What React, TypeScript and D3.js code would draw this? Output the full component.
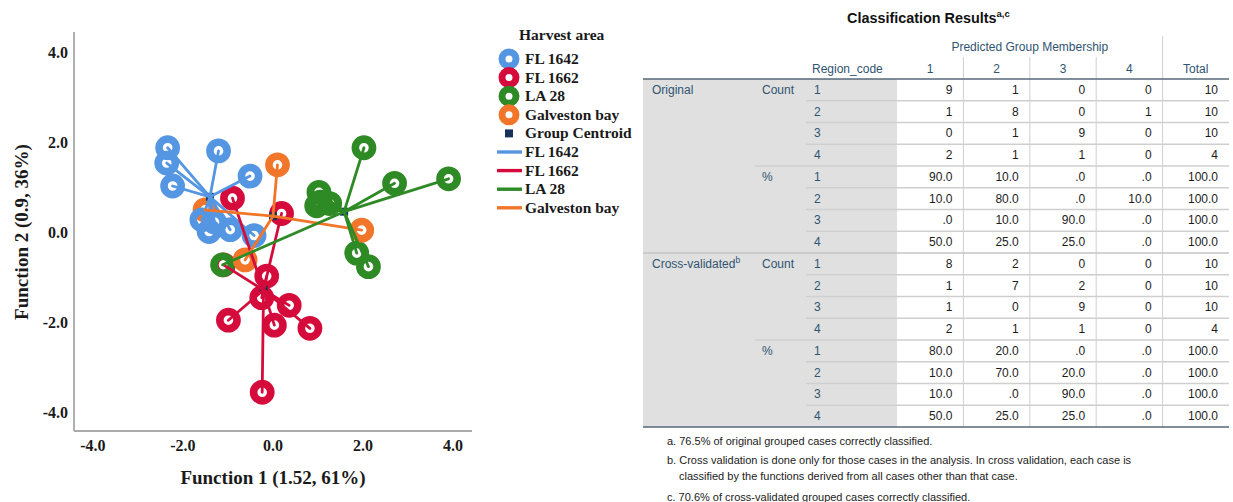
import React from 'react';
import * as d3 from 'd3';

// ---- Discriminant scores (Function 1, Function 2) per harvest area ----
const groupNames = ['FL 1642', 'FL 1662', 'LA 28', 'Galveston bay'];
const groupColors = ['#5596e3', '#d50b3b', '#2e8a25', '#f2762a'];

const fl1642Cases: [number, number][] = [
  [-2.34, 1.87], [-2.36, 1.53], [-2.23, 1.02], [-1.21, 1.80], [-0.51, 1.24],
  [-1.58, 0.27], [-1.42, 0.01], [-0.95, 0.05], [-0.42, -0.08], [-1.30, 0.22],
];
const fl1662Cases: [number, number][] = [
  [-0.90, 0.75], [0.19, 0.41], [-1.10, -0.73], [-0.14, -0.98], [-0.25, -1.46],
  [0.36, -1.63], [-0.99, -1.96], [0.03, -2.07], [0.82, -2.14], [-0.24, -3.56],
];
const la28Cases: [number, number][] = [
  [2.02, 1.87], [2.70, 1.08], [3.90, 1.18], [1.02, 0.88], [1.05, 0.66],
  [1.26, 0.63], [0.97, 0.58], [1.86, -0.47], [2.12, -0.77], [-1.12, -0.73],
];
const galvestonCases: [number, number][] = [
  [0.10, 1.49], [1.97, 0.04], [-0.62, -0.62], [-1.51, 0.49],
];
const groupCases = [fl1642Cases, fl1662Cases, la28Cases, galvestonCases];
const groupCentroids: [number, number][] = [
  [-1.40, 0.78], [-0.21, -1.29], [1.58, 0.45], [0.00, 0.35],
];
const axisTicks = [-4, -2, 0, 2, 4];

// ---- Classification Results table ----
const predictedHeaders = ['1', '2', '3', '4', 'Total'];
const regionCodes = ['1', '2', '3', '4'];
const originalCount = [
  ['9', '1', '0', '0', '10'],
  ['1', '8', '0', '1', '10'],
  ['0', '1', '9', '0', '10'],
  ['2', '1', '1', '0', '4'],
];
const originalPct = [
  ['90.0', '10.0', '.0', '.0', '100.0'],
  ['10.0', '80.0', '.0', '10.0', '100.0'],
  ['.0', '10.0', '90.0', '.0', '100.0'],
  ['50.0', '25.0', '25.0', '.0', '100.0'],
];
const crossCount = [
  ['8', '2', '0', '0', '10'],
  ['1', '7', '2', '0', '10'],
  ['1', '0', '9', '0', '10'],
  ['2', '1', '1', '0', '4'],
];
const crossPct = [
  ['80.0', '20.0', '.0', '.0', '100.0'],
  ['10.0', '70.0', '20.0', '.0', '100.0'],
  ['10.0', '.0', '90.0', '.0', '100.0'],
  ['50.0', '25.0', '25.0', '.0', '100.0'],
];
const footnotes = [
  { text: 'a. 76.5% of original grouped cases correctly classified.', indent: 0, gap: 0 },
  { text: 'b. Cross validation is done only for those cases in the analysis. In cross validation, each case is', indent: 0, gap: 1 },
  { text: 'classified by the functions derived from all cases other than that case.', indent: 12, gap: 0 },
  { text: 'c. 70.6% of cross-validated grouped cases correctly classified.', indent: 0, gap: 1 },
];

const SERIF = "'Liberation Serif', 'Times New Roman', serif";
const SANS = "'Liberation Sans', Arial, sans-serif";

function ScatterPanel() {
  const x = d3.scaleLinear().domain([-4.42, 4.42]).range([74, 472]);
  const y = d3.scaleLinear().domain([-4.42, 4.44]).range([431, 32]);
  const fmt = (v: number) => d3.format('.1f')(v).replace('\u2212', '-');
  const pointOrder = [1, 2, 3, 0];
  const lineOrder = [0, 1, 3, 2];

  const legendY = (i: number) => 59 + i * 18.6;

  return (
    <g>
      {/* axes */}
      <line x1={x.range()[0]} x2={x.range()[0]} y1={y.range()[1]} y2={y.range()[0]} stroke="#8f8f8f" strokeWidth={1.4} />
      <line x1={x.range()[0]} x2={x.range()[1]} y1={y.range()[0]} y2={y.range()[0]} stroke="#8f8f8f" strokeWidth={1.4} />
      {axisTicks.map((t) => (
        <text key={'yt' + t} x={68} y={y(t) + 6} textAnchor="end" fontFamily={SERIF} fontWeight="bold" fontSize={16} fill="#1a1a1a">
          {fmt(t)}
        </text>
      ))}
      {axisTicks.map((t) => (
        <text key={'xt' + t} x={x(t)} y={451} textAnchor="middle" fontFamily={SERIF} fontWeight="bold" fontSize={16} fill="#1a1a1a">
          {fmt(t)}
        </text>
      ))}
      <text x={273} y={484} textAnchor="middle" fontFamily={SERIF} fontWeight="bold" fontSize={19} fill="#1a1a1a">
        Function 1 (1.52, 61%)
      </text>
      <text transform={`translate(28,232) rotate(-90)`} textAnchor="middle" fontFamily={SERIF} fontWeight="bold" fontSize={19} fill="#1a1a1a">
        Function 2 (0.9, 36%)
      </text>

      {/* case markers */}
      {pointOrder.map((g) =>
        groupCases[g].map((p, i) => (
          <circle key={`p${g}-${i}`} cx={x(p[0])} cy={y(p[1])} r={8.6} fill="none" stroke={groupColors[g]} strokeWidth={7.6} />
        ))
      )}
      {/* group centroids */}
      {groupCentroids.map((c, g) => (
        <rect key={'c' + g} x={x(c[0]) - 4} y={y(c[1]) - 4} width={8} height={8} fill="#16325c" />
      ))}
      {/* case-to-centroid lines */}
      {lineOrder.map((g) =>
        groupCases[g].map((p, i) => (
          <line key={`l${g}-${i}`} x1={x(groupCentroids[g][0])} y1={y(groupCentroids[g][1])} x2={x(p[0])} y2={y(p[1])}
            stroke={groupColors[g]} strokeWidth={2.8} strokeLinecap="round" />
        ))
      )}

      {/* legend */}
      <text x={519} y={40} fontFamily={SERIF} fontWeight="bold" fontSize={15.5} fill="#1a1a1a">Harvest area</text>
      {groupNames.map((name, i) => (
        <g key={'lp' + i}>
          <circle cx={509} cy={legendY(i)} r={7} fill="none" stroke={groupColors[i]} strokeWidth={7} />
          <text x={525} y={legendY(i) + 5} fontFamily={SERIF} fontWeight="bold" fontSize={15.5} fill="#1a1a1a">{name}</text>
        </g>
      ))}
      <rect x={505} y={legendY(4) - 4} width={8} height={8} fill="#16325c" />
      <text x={525} y={legendY(4) + 5} fontFamily={SERIF} fontWeight="bold" fontSize={15.5} fill="#1a1a1a">Group Centroid</text>
      {groupNames.map((name, i) => (
        <g key={'ll' + i}>
          <line x1={497} x2={522} y1={legendY(5 + i)} y2={legendY(5 + i)} stroke={groupColors[i]} strokeWidth={3.4} />
          <text x={525} y={legendY(5 + i) + 5} fontFamily={SERIF} fontWeight="bold" fontSize={15.5} fill="#1a1a1a">{name}</text>
        </g>
      ))}
    </g>
  );
}

function ResultsTable() {
  const left = 643;
  const right = 1229;
  const grayRight = 897;
  const headBottom = 79;
  const bodyRows = [
    ...originalCount, ...originalPct, ...crossCount, ...crossPct,
  ];
  const rowBand = d3.scaleBand<number>().domain(d3.range(bodyRows.length)).range([headBottom, 427]);
  const colBand = d3.scaleBand<number>().domain(d3.range(predictedHeaders.length)).range([grayRight, right]);
  const rh = rowBand.bandwidth();
  const headColor = '#2f5470';
  const lineColor = '#cfcfcf';
  const ruleColor = '#56687a';

  const cellMid = (r: number) => (rowBand(r) as number) + rh / 2 + 4;

  return (
    <g fontFamily={SANS}>
      <text x={847} y={23} fontWeight="bold" fontSize={14.4} fill="#111">
        Classification Results
        <tspan dy={-6} fontSize={9.5}>a,c</tspan>
      </text>

      {/* gray label block */}
      <rect x={left} y={headBottom} width={grayRight - left} height={427 - headBottom} fill="#e0e0e0" />

      {/* header */}
      <text x={(grayRight + (colBand(4) as number)) / 2} y={51} textAnchor="middle" fontSize={12} fill={headColor}>
        Predicted Group Membership
      </text>
      <text x={812} y={73} fontSize={12} fill={headColor}>Region_code</text>
      {predictedHeaders.map((h, i) => (
        <text key={'h' + i} x={(colBand(i) as number) + colBand.bandwidth() / 2} y={73} textAnchor="middle" fontSize={12} fill={headColor}>
          {h}
        </text>
      ))}
      {[1, 2, 3].map((i) => (
        <line key={'hv' + i} x1={colBand(i)} x2={colBand(i)} y1={57} y2={headBottom} stroke={lineColor} strokeWidth={1} />
      ))}
      <line x1={colBand(4)} x2={colBand(4)} y1={36} y2={headBottom} stroke={lineColor} strokeWidth={1} />

      {/* body grid */}
      {[1, 2, 3, 4].map((i) => (
        <line key={'bv' + i} x1={colBand(i)} x2={colBand(i)} y1={headBottom} y2={427} stroke={lineColor} strokeWidth={1} />
      ))}
      {d3.range(1, bodyRows.length).map((r) => {
        const yy = rowBand(r) as number;
        const x0 = r === 8 ? left : r % 4 === 0 ? 755 : 806;
        return <line key={'rl' + r} x1={x0} x2={right} y1={yy} y2={yy} stroke={r === 8 ? '#c4c4c4' : lineColor} strokeWidth={1.3} />;
      })}
      <line x1={left} x2={right} y1={headBottom} y2={headBottom} stroke={ruleColor} strokeWidth={1.5} />
      <line x1={left} x2={right} y1={427} y2={427} stroke={ruleColor} strokeWidth={1.5} />

      {/* row labels */}
      <text x={652} y={cellMid(0)} fontSize={12} fill={headColor}>Original</text>
      <text x={652} y={cellMid(8)} fontSize={12} fill={headColor}>
        Cross-validated<tspan dy={-5} fontSize={8.5}>b</tspan>
      </text>
      {[0, 8].map((r) => (
        <text key={'cnt' + r} x={762} y={cellMid(r)} fontSize={12} fill={headColor}>Count</text>
      ))}
      {[4, 12].map((r) => (
        <text key={'pct' + r} x={762} y={cellMid(r)} fontSize={12} fill={headColor}>%</text>
      ))}
      {bodyRows.map((_, r) => (
        <text key={'rc' + r} x={814} y={cellMid(r)} fontSize={12} fill={headColor}>{regionCodes[r % 4]}</text>
      ))}

      {/* values */}
      {bodyRows.map((row, r) =>
        row.map((v, c) => (
          <text key={`v${r}-${c}`} x={(colBand(c) as number) + colBand.bandwidth() - 11} y={cellMid(r)} textAnchor="end" fontSize={12} fill="#1c1c1c">
            {v}
          </text>
        ))
      )}

      {/* footnotes */}
      {(() => {
        let yy = 445;
        return footnotes.map((f, i) => {
          if (i > 0) yy += f.gap ? 19 : 16;
          if (i === 3) yy += 2;
          return (
            <text key={'fn' + i} x={667 + f.indent} y={yy} fontSize={11} fill="#222">{f.text}</text>
          );
        });
      })()}
    </g>
  );
}

export default function App() {
  return (
    <svg width={1233} height={502} style={{ position: 'absolute', left: 0, top: 0, background: '#fff' }}>
      <rect width={1233} height={502} fill="#fff" />
      <ScatterPanel />
      <ResultsTable />
    </svg>
  );
}
